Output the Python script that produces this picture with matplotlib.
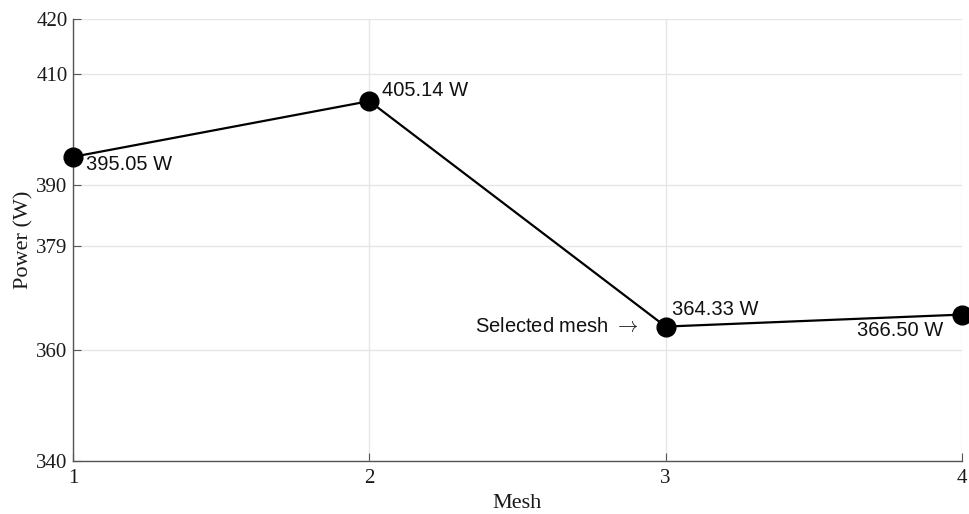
import matplotlib
matplotlib.use("Agg")
import matplotlib.pyplot as plt

plt.rcParams["mathtext.fontset"] = "cm"

mesh = [1, 2, 3, 4]
power = [395.05, 405.14, 364.33, 366.50]
labels = ["395.05 W", "405.14 W", "364.33 W", "366.50 W"]
yticks = [340, 360, 379, 390, 410, 420]
xticks = [1, 2, 3, 4]

fig = plt.figure(figsize=(9.7, 5.14), dpi=100)
ax = fig.add_axes([73/970, 1-461/514, (962-73)/970, (461-19)/514])

ax.plot(mesh, power, color="black", lw=1.6, marker="o", markersize=13.5,
        clip_on=False, zorder=3)

ax.set_xlim(1, 4)
ax.set_ylim(340, 420)
ax.set_xticks(xticks)
ax.set_yticks(yticks)
ax.grid(True, color="#e6e6e6", lw=1)
ax.set_axisbelow(True)
for s in ["top", "right"]:
    ax.spines[s].set_visible(False)
for s in ["left", "bottom"]:
    ax.spines[s].set_color("#555555")
    ax.spines[s].set_linewidth(1)
ax.tick_params(direction="in", length=6, color="#555555", labelsize=15,
               labelcolor="#1a1a1a")
for t in ax.get_xticklabels() + ax.get_yticklabels():
    t.set_family("Liberation Serif")
ax.tick_params(axis="x", pad=6)
ax.tick_params(axis="y", pad=4)

ax.set_xlabel("Mesh", family="Liberation Serif", fontsize=16, color="#1a1a1a", labelpad=4)
ax.set_ylabel("Power (W)", family="Liberation Serif", fontsize=16, color="#1a1a1a", labelpad=2)

sans = ["Liberation Sans", "DejaVu Sans"]
offsets = [((9, -5.5), "left"), ((9.4, 7.6), "left"), ((4.3, 12.2), "left"), ((-13.7, -11.3), "right")]
for x, y, lab, (off, ha) in zip(mesh, power, labels, offsets):
    ax.annotate(lab, (x, y), xytext=off, textcoords="offset points",
                ha=ha, va="center", fontsize=14.5, family=sans, color="#111111",
                annotation_clip=False)
ax.annotate(r"Selected mesh $\rightarrow$", (mesh[2], power[2]), xytext=(-20, 0),
            textcoords="offset points", ha="right", va="center", fontsize=14.5,
            family=sans, color="#111111")

fig.savefig("out.png", dpi=100)
